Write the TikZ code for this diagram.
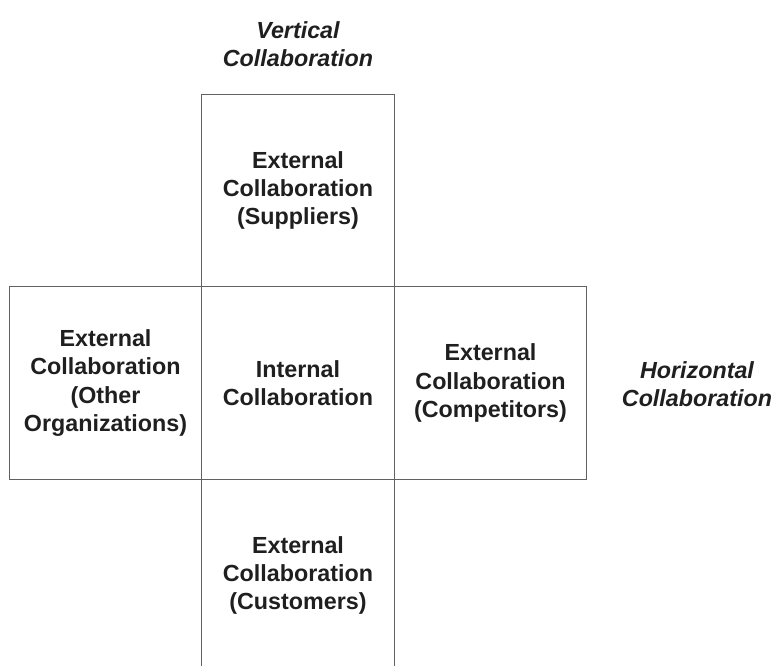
\documentclass[tikz,border=0pt]{standalone}
\usepackage{fontspec}
\setmainfont{Liberation Sans}
\begin{document}
\begin{tikzpicture}[x=1pt,y=-1pt,
  cell/.style={draw=black!62,line width=1.3pt,minimum width=192.5pt,minimum height=192.5pt,inner sep=0pt,
    align=center,text=black!88,font=\fontsize{23.3}{28.4}\selectfont\bfseries},
  title/.style={align=center,text=black!88,font=\fontsize{23.3}{28.4}\selectfont\bfseries\itshape}]
\useasboundingbox (0,0) rectangle (776,666);
\clip (0,0) rectangle (776,666);
\node[cell] (top) at (298,190.5) {External\\Collaboration\\(Suppliers)};
\node[cell] (center) at (298,383) {Internal\\Collaboration};
\node[cell] (left) at (105.5,383) {External\\Collaboration\\(Other\\Organizations)};
\node[cell] (right) at (490.5,383) {External\\Collaboration\\(Competitors)};
\node[cell] (bottom) at (298,575.5) {External\\Collaboration\\(Customers)};
\node[title] (vtitle) at (298,44) {Vertical\\Collaboration};
\node[title] (htitle) at (697,384) {Horizontal\\Collaboration};
\end{tikzpicture}
\end{document}
